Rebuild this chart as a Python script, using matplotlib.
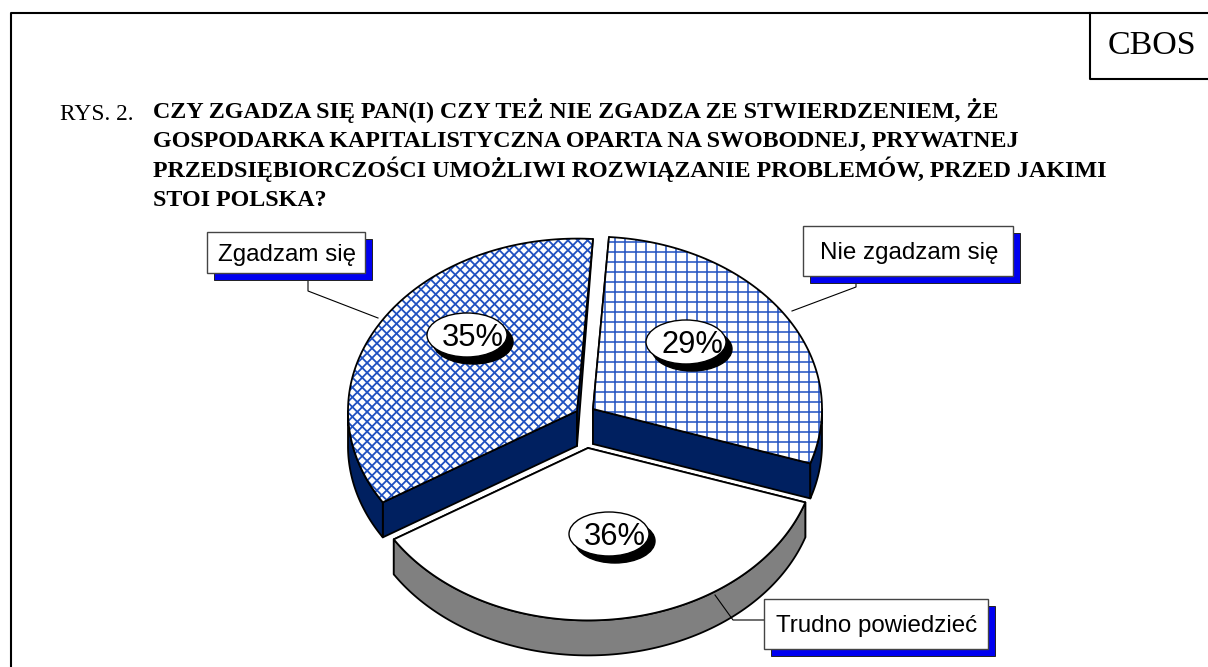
import numpy as np
import matplotlib
matplotlib.use("Agg")
import matplotlib.pyplot as plt
from matplotlib.patches import Polygon, Rectangle, Ellipse

# ---- data ----
categories = ["Nie zgadzam się", "Trudno powiedzieć", "Zgadzam się"]
values = [29, 36, 35]
pct_labels = ["29%", "36%", "35%"]
fig_label = "RYS. 2."
title_lines = [
    "CZY ZGADZA SIĘ PAN(I) CZY TEŻ NIE ZGADZA ZE STWIERDZENIEM, ŻE",
    "GOSPODARKA KAPITALISTYCZNA OPARTA NA SWOBODNEJ, PRYWATNEJ",
    "PRZEDSIĘBIORCZOŚCI UMOŻLIWI ROZWIĄZANIE PROBLEMÓW, PRZED JAKIMI",
    "STOI POLSKA?",
]
corner_label = "CBOS"

# ---- layout (pixels) ----
W, H = 1208, 667
RX, RY, DEPTH = 229, 172.4, 35
START = 86
apexes = [(593, 409), (588, 448), (577, 411)]
top_styles = ["grid", None, "cross"]
wall_colors = ["#002060", "#808080", "#002060"]
pct_pos = [(686, 342), (609, 534), (467, 335)]
boxes = [(803, 226, 210, 50), (764, 599, 224, 50), (207, 232, 158, 41)]
leaders = [[(856, 282), (856, 287), (792, 311)],
           [(764, 620), (733, 620), (715, 595)],
           [(308, 278), (308, 291), (378, 318)]]
HATCH = "#1F50C0"
EDGE = 1.3

fig = plt.figure(figsize=(W / 100, H / 100), dpi=100)
ax = fig.add_axes([0, 0, 1, 1])
ax.set_xlim(0, W)
ax.set_ylim(H, 0)
ax.axis("off")


def pt(apex, t, dy=0):
    r = np.radians(t)
    return (apex[0] + RX * np.cos(r), apex[1] - RY * np.sin(r) + dy)


def arc(apex, t1, t2, dy=0, n=120):
    return [pt(apex, t, dy) for t in np.linspace(t1, t2, n)]


def add_poly(points, face, z, edge="black"):
    p = Polygon(points, closed=True, facecolor=face, edgecolor=edge,
                linewidth=EDGE, joinstyle="round", zorder=z)
    ax.add_patch(p)
    return p


def hatch(patch, style, z):
    if style == "grid":
        xs = 594.8 + 10.2 * np.arange(-1, 24)
        ys = 231.7 + 10.0 * np.arange(0, 25)
        lines = [([x, x], [225, 480]) for x in xs] + [([585, 830], [y, y]) for y in ys]
    else:
        s = 9.8
        offs = np.arange(-700, 1100, s)
        lines = []
        for o in offs:
            lines.append(([340, 600], [o + 340, o + 600]))
            lines.append(([340, 600], [o + 600, o + 340]))
    lw = 1.1 if style == "grid" else 1.3
    for xx, yy in lines:
        ln, = ax.plot(xx, yy, color=HATCH, lw=lw, zorder=z, solid_capstyle="butt")
        ln.set_clip_path(patch)


t = START
angles = []
for v in values:
    angles.append((t, t - v * 3.6))
    t -= v * 3.6

for z0, i in enumerate((0, 2, 1)):
    base = 2 + z0 * 3
    t1, t2 = angles[i]
    a = apexes[i]
    col = wall_colors[i]
    # radial walls
    for tt in (t1, t2):
        c = pt(a, tt)
        if np.sin(np.radians(tt)) < 0:
            add_poly([a, c, (c[0], c[1] + DEPTH), (a[0], a[1] + DEPTH)], col, base)
        else:
            add_poly([c, a, (a[0], a[1] + DEPTH)], col, base)
    # outer wall: the part of the rim that faces the viewer
    for shift in (-360, 0, 360):
        lo, hi = max(t2, -180 + shift), min(t1, shift)
        if hi > lo:
            add_poly(arc(a, hi, lo) + arc(a, lo, hi, DEPTH), col, base)
    # top surface
    top_pts = [a] + arc(a, t1, t2)
    surf = add_poly(top_pts, "white", base + 1, edge="none")
    if top_styles[i]:
        hatch(surf, top_styles[i], base + 1)
    add_poly(top_pts, "none", base + 2)

# percentage bubbles
for (x, y), s in zip(pct_pos, pct_labels):
    ax.add_patch(Ellipse((x + 6, y + 7), 80, 44, facecolor="black", edgecolor="black", zorder=20))
    ax.add_patch(Ellipse((x, y), 80, 44, facecolor="white", edgecolor="black", lw=1.0, zorder=21))
    ax.text(x + 6, y + 3, s, fontsize=22.2, family="Liberation Sans", ha="center", va="center",
            color="black", zorder=22)

# leaders and category boxes
for pts in leaders:
    xs, ys = zip(*pts)
    ax.plot(xs, ys, color="black", lw=0.8, zorder=19)
for (x, y, w, h), s in zip(boxes, categories):
    ax.add_patch(Rectangle((x + 7, y + 7), w, h, facecolor="#0000F0", edgecolor="#222222", lw=0.7, zorder=23))
    ax.add_patch(Rectangle((x, y), w, h, facecolor="white", edgecolor="#444444", lw=1.0, zorder=24))
    ax.text(x + w / 2 + 1, y + h / 2 + 2, s, fontsize=17.4, family="Liberation Sans", ha="center", va="center",
            color="black", zorder=25)

# frame
ax.plot([10.5, 10.5, W], [H, 13, 13], color="black", lw=1.5, zorder=30)
ax.plot([1089.5, 1089.5, W], [13, 79, 79], color="black", lw=1.5, zorder=30)
ax.text(1152, 46, corner_label, fontsize=24.5, family="Liberation Serif", ha="center", va="center")

# heading
ax.text(60, 120, fig_label, fontsize=16.8, family="Liberation Serif", ha="left", va="baseline")
for j, line in enumerate(title_lines):
    ax.text(153, 118 + j * 29.3, line, fontsize=17.3, fontweight="bold", family="Liberation Serif",
            ha="left", va="baseline")

fig.savefig("out.png", dpi=100)
